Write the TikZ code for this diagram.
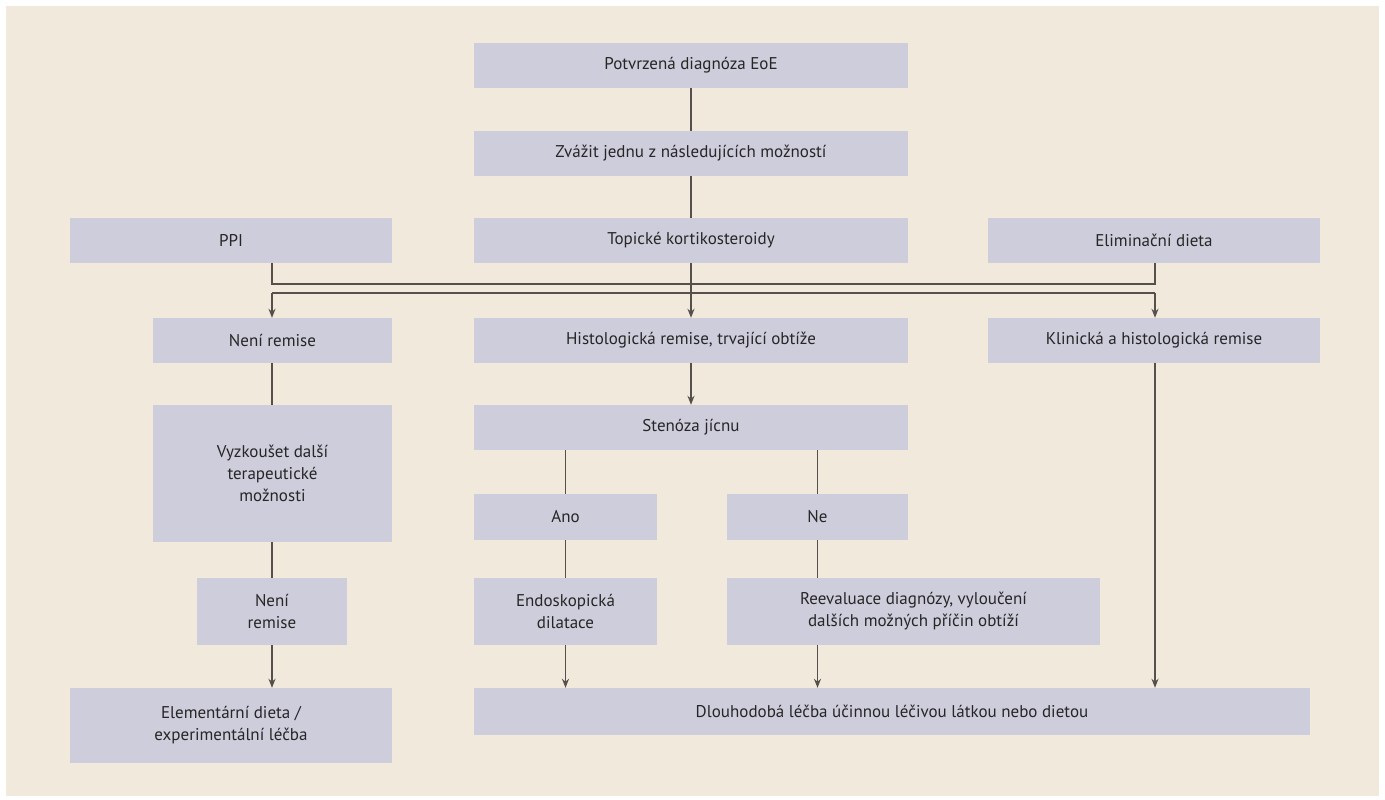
\documentclass[tikz,border=0pt]{standalone}
\usepackage{fontspec}
\setmainfont{PT Sans}
\usetikzlibrary{arrows.meta}
\definecolor{bg}{RGB}{241,233,220}
\definecolor{bx}{RGB}{206,205,220}
\definecolor{ln}{RGB}{85,80,75}
\begin{document}
\begin{tikzpicture}[x=1pt,y=-1pt,
  box/.style={draw=none,fill=bx,inner sep=0pt,align=center,font=\fontsize{17}{22}\selectfont,text=black!85},
  ln/.style={draw=ln,line width=1.6pt},
  ar/.style={ln,-{Stealth[length=9pt,width=7pt]}}]
\useasboundingbox (0,0) rectangle (1385,800);
\fill[white] (0,0) rectangle (1385,800);
\fill[bg] (6,6) rectangle (1379,796);
\newcommand\bxn[6]{\node[box,minimum width=#4-#2,minimum height=#5-#3] (#1) at ({(#2+#4)/2},{(#3+#5)/2}) {#6};}
\bxn{a}{474}{43}{908}{88}{Potvrzená diagnóza EoE}
\bxn{b}{474}{131}{908}{176}{Zvážit jednu z následujících možností}
\bxn{ppi}{70}{218}{392}{263}{PPI}
\bxn{top}{474}{218}{908}{263}{Topické kortikosteroidy}
\bxn{eli}{988}{218}{1320}{263}{Eliminační dieta}
\bxn{nr}{153}{318}{392}{363}{Není remise}
\bxn{his}{474}{318}{908}{363}{Histologická remise, trvající obtíže}
\bxn{kli}{988}{318}{1320}{363}{Klinická a histologická remise}
\bxn{vyz}{153}{405}{392}{542}{Vyzkoušet další\\terapeutické\\možnosti}
\bxn{ste}{474}{405}{908}{450}{Stenóza jícnu}
\bxn{ano}{474}{494}{657}{540}{Ano}
\bxn{ne}{727}{494}{908}{540}{Ne}
\bxn{nr2}{197}{578}{347}{645}{Není\\remise}
\bxn{end}{474}{578}{657}{645}{Endoskopická\\dilatace}
\bxn{ree}{727}{578}{1100}{645}{Reevaluace diagnózy, vyloučení\\dalších možných příčin obtíží}
\bxn{ele}{70}{688}{392}{763}{Elementární dieta /\\experimentální léčba}
\bxn{dlo}{474}{688}{1310}{735}{Dlouhodobá léčba účinnou léčivou látkou nebo dietou}
\coordinate (u1) at (272,284);
\coordinate (u2) at (1155,284);
\coordinate (l1) at (272,293);
\coordinate (l2) at (1155,293);
\draw[ln] (a) -- (b);
\draw[ln] (b) -- (top);
\draw[ar] (top) -- (his);
\draw[ln] (ppi.south -| u1) -- (u1) -- (u2) -- (eli.south -| u2);
\draw[ln] (l1) -- (l2);
\draw[ar] (l1) -- (nr.north -| l1);
\draw[ar] (l2) -- (kli.north -| l2);
\draw[ln] (nr.south -| l1) -- (vyz.north -| l1);
\draw[ln] (vyz.south -| l1) -- (nr2.north -| l1);
\draw[ar] (nr2.south -| l1) -- (ele.north -| l1);
\draw[ar] (his) -- (ste);
\draw[ln] (ste.south -| ano) -- (ano);
\draw[ln] (ste.south -| ne) -- (ne);
\draw[ln] (ano) -- (end);
\draw[ar] (end) -- (dlo.north -| end);
\draw[ln] (ne.south) -- (ree.north -| ne);
\draw[ar] (ree.south -| ne) -- (dlo.north -| ne);
\draw[ar] (kli.south -| l2) -- (dlo.north -| l2);
\end{tikzpicture}
\end{document}
